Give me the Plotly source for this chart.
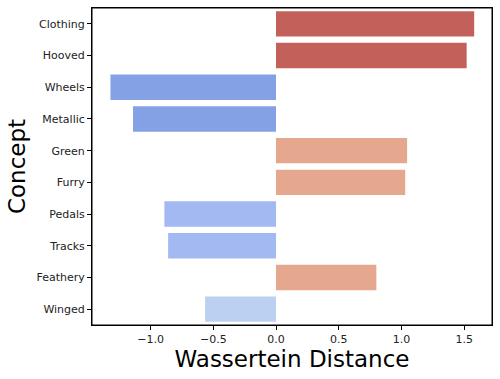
import plotly.graph_objects as go

# -------------------------------------------------
# Data
# -------------------------------------------------
concepts = ["Clothing", "Hooved", "Wheels", "Metallic", "Green",
            "Furry", "Pedals", "Tracks", "Feathery", "Winged"]
distances = [1.58, 1.52, -1.32, -1.14, 1.045, 1.03, -0.89, -0.86, 0.80, -0.565]
bar_colors = ["#c4605a", "#c4605a", "#85a1e5", "#85a1e5", "#e6a78f",
              "#e6a78f", "#a2b9f1", "#a2b9f1", "#e6a78f", "#bcd0f2"]
x_ticks = [-1.0, -0.5, 0.0, 0.5, 1.0, 1.5]
x_tick_labels = ["\u22121.0", "\u22120.5", "0.0", "0.5", "1.0", "1.5"]

fig = go.Figure()

fig.add_trace(
    go.Bar(
        x=distances,
        y=concepts,
        orientation="h",
        width=0.8,
        marker=dict(color=bar_colors, line=dict(width=0)),
        showlegend=False,
    )
)

axis_common = dict(
    automargin=False,
    showline=True,
    linecolor="black",
    linewidth=1,
    mirror=True,
    ticks="outside",
    ticklen=4,
    tickcolor="black",
    showgrid=False,
    zeroline=False,
    tickfont=dict(family="DejaVu Sans", size=11, color="#222"),
)

fig.update_xaxes(
    range=[-1.467, 1.722],
    tickvals=x_ticks,
    ticktext=x_tick_labels,
    title=dict(text="Wassertein Distance",
               font=dict(family="DejaVu Sans", size=23, color="black"),
               standoff=3),
    **axis_common,
)
fig.update_yaxes(
    categoryorder="array",
    categoryarray=concepts[::-1],
    range=[-0.5, 9.5],
    title=dict(text="Concept",
               font=dict(family="DejaVu Sans", size=23, color="black"),
               standoff=4),
    **axis_common,
)

# frame around the plot area
fig.add_shape(type="rect", xref="paper", yref="paper", x0=0, y0=0, x1=1, y1=1,
              line=dict(color="black", width=1), layer="above")

fig.update_layout(
    width=500,
    height=379,
    margin=dict(l=92, r=8, t=8, b=54),
    plot_bgcolor="white",
    paper_bgcolor="white",
    bargap=0.2,
)

# drop the default page margin so the figure fills the window exactly
fig.write_html("out.html",
               config={"displayModeBar": False},
               post_script="document.body.style.margin='0';"
                           "document.body.style.overflow='hidden';")
